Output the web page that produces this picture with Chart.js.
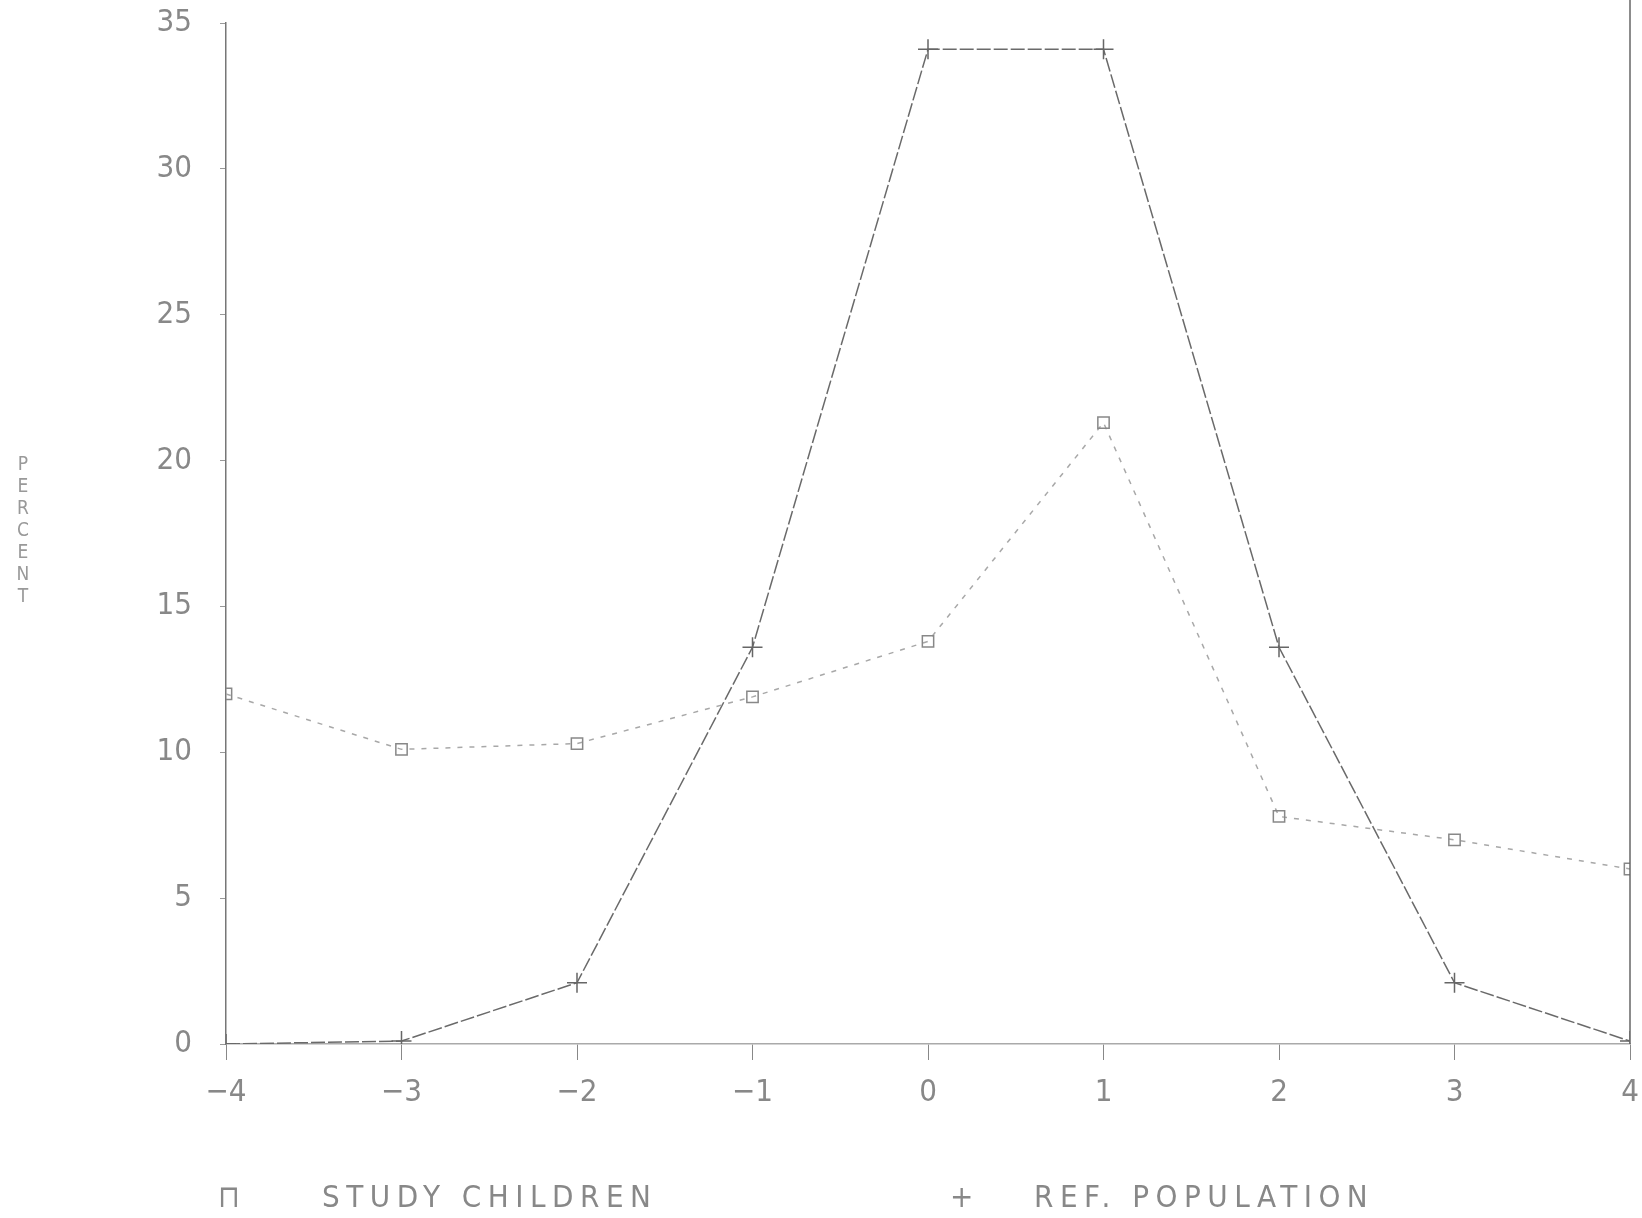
<!DOCTYPE html>
<html>
<head>
<meta charset="utf-8">
<script src="https://cdn.jsdelivr.net/npm/chart.js@4"></script>
<style>
  body { margin: 0; background: #fff; }
  #wrap { position: relative; width: 1642px; height: 1218px; }
  #ytitle { position: absolute; left: 8px; top: 452px; width: 30px; font: 19px "DejaVu Sans Condensed", "DejaVu Sans", sans-serif; color: #999; line-height: 22px; text-align: center; }
  .leg { position: absolute; top: 1178px; font: 31px "DejaVu Sans Condensed", "DejaVu Sans", sans-serif; color: #888; letter-spacing: 6.5px; }
</style>
</head>
<body>
<div id="wrap">
  <canvas id="curveChart" width="1642" height="1218"></canvas>
  <div id="ytitle">P<br>E<br>R<br>C<br>E<br>N<br>T</div>
  <div class="leg" style="left:218px;">&#8851;</div>
  <div class="leg" style="left:322px;">STUDY CHILDREN</div>
  <div class="leg" style="left:950px;">+</div>
  <div class="leg" style="left:1034px;">REF. POPULATION</div>
</div>
<script>
var sdScores = [-4, -3, -2, -1, 0, 1, 2, 3, 4];
var studyChildren = [12.0, 10.1, 10.3, 11.9, 13.8, 21.3, 7.8, 7.0, 6.0];
var refPopulation = [0, 0.1, 2.1, 13.6, 34.1, 34.1, 13.6, 2.1, 0.1];
var yTicks = [0, 5, 10, 15, 20, 25, 30, 35];

function toPoints(vals) {
    return sdScores.map(function (x, i) { return { x: x, y: vals[i] }; });
}

var tickFont = { family: "'DejaVu Sans Condensed', 'DejaVu Sans', sans-serif", size: 31 };

// right hand frame line
var frameLine = {
    id: "frameLine",
    afterDraw: function (chart) {
        var c = chart.ctx, a = chart.chartArea;
        c.save();
        c.strokeStyle = "#666";
        c.lineWidth = 1.5;
        c.beginPath();
        c.moveTo(a.right, 0);
        c.lineTo(a.right, a.bottom);
        c.stroke();
        c.restore();
    }
};

var ctxx = document.getElementById("curveChart").getContext("2d");

var myChart = new Chart(ctxx, {
    type: "line",
    data: {
        datasets: [
            {
                label: "STUDY CHILDREN",
                data: toPoints(studyChildren),
                borderColor: "#a8a8a8",
                borderWidth: 1.5,
                borderDash: [5, 7],
                pointStyle: "rect",
                pointRadius: 8,
                pointBorderColor: "#888",
                pointBackgroundColor: "rgba(0,0,0,0)",
                pointBorderWidth: 1.5,
            },
            {
                label: "REF. POPULATION",
                data: toPoints(refPopulation),
                borderColor: "#6a6a6a",
                borderWidth: 1.5,
                borderDash: [14, 3],
                pointStyle: "cross",
                pointRadius: 10,
                pointBorderColor: "#666",
                pointBorderWidth: 1.5,
            },
        ],
    },
    options: {
        responsive: false,
        animation: false,
        layout: { padding: { top: 23, right: 12, left: 0, bottom: 0 } },
        scales: {
            x: {
                type: "linear",
                min: -4,
                max: 4,
                afterFit: function (s) { s.height = 174; s.paddingLeft = 0; s.paddingRight = 0; },
                afterBuildTicks: function (s) { s.ticks = sdScores.map(function (v) { return { value: v }; }); },
                ticks: {
                    color: "#888",
                    font: tickFont,
                    padding: 14,
                    callback: function (v) { return v < 0 ? "\u2212" + Math.abs(v) : v; },
                },
                grid: { display: true, drawOnChartArea: false, tickLength: 16, color: "#888" },
                border: { color: "#aaa", dash: [2, 7], width: 1.5 },
            },
            y: {
                min: 0,
                max: 35,
                afterFit: function (s) { s.width = 226; s.paddingTop = 0; s.paddingBottom = 0; },
                afterBuildTicks: function (s) { s.ticks = yTicks.map(function (v) { return { value: v }; }); },
                ticks: { color: "#888", font: tickFont, padding: 28 },
                grid: { display: true, drawOnChartArea: false, tickLength: 6, color: "#999" },
                border: { color: "#777", width: 1.5 },
            },
        },
        plugins: {
            legend: { display: false },
            tooltip: { enabled: false },
        },
    },
    plugins: [frameLine],
});
</script>
</body>
</html>
